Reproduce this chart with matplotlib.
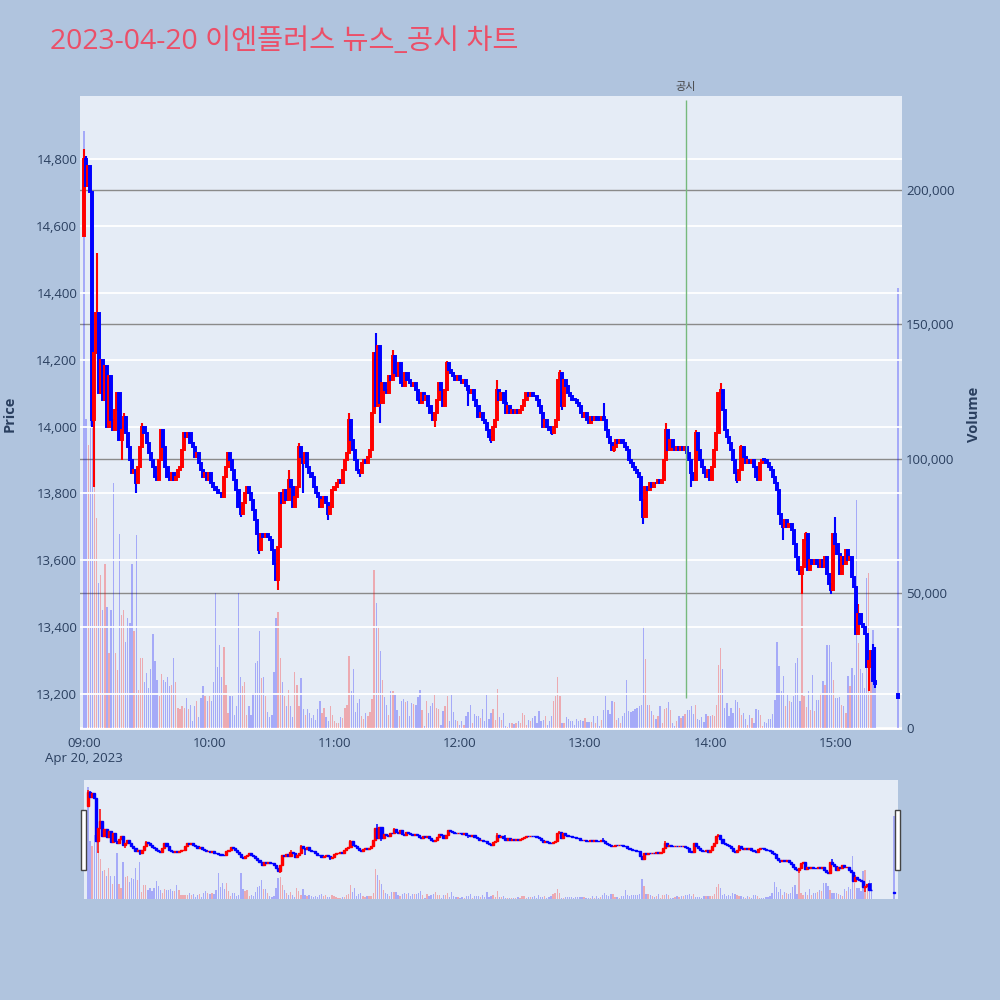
import numpy as np
import pandas as pd
import matplotlib
matplotlib.use("Agg")
import matplotlib.pyplot as plt
import matplotlib.transforms as mtransforms
from matplotlib.patches import Rectangle

plt.rcParams['font.family'] = ['Open Sans', 'Noto Sans CJK KR', 'DejaVu Sans']

# ---------------- data ----------------
title_text = "2023-04-20 이엔플러스 뉴스_공시 차트"
session_start = "2023-04-20 09:00"
first_open = 14570

closes = [
    14800, 14720, 14780, 14700, 14020, 14220, 14340, 14100, 14200, 14080,
    14180, 14000, 14150, 14020, 13990, 14050, 14100, 13960, 13990, 14030,
    13980, 13940, 13900, 13860, 13870, 13830, 13880, 13940, 14000, 13980,
    13950, 13920, 13900, 13880, 13850, 13840, 13900, 13990, 13940, 13880,
    13850, 13840, 13860, 13840, 13850, 13870, 13880, 13930, 13980, 13970,
    13980, 13950, 13940, 13910, 13920, 13890, 13870, 13850, 13860, 13840,
    13860, 13830, 13820, 13810, 13800, 13800, 13790, 13850, 13880, 13920,
    13900, 13870, 13840, 13810, 13760, 13740, 13770, 13800, 13820, 13800,
    13780, 13750, 13720, 13680, 13630, 13680, 13670, 13680, 13670, 13660,
    13630, 13590, 13540, 13640, 13800, 13770, 13810, 13780, 13840, 13820,
    13760, 13790, 13820, 13940, 13910, 13890, 13920, 13880, 13860, 13850,
    13820, 13800, 13790, 13760, 13780, 13790, 13770, 13740, 13760, 13810,
    13820, 13830, 13840, 13830, 13870, 13900, 13920, 14020, 13960, 13930,
    13900, 13870, 13860, 13890, 13900, 13890, 13910, 13930, 14040, 14220,
    14060, 14240, 14070, 14130, 14110, 14100, 14150, 14140, 14210, 14160,
    14150, 14190, 14130, 14120, 14160, 14140, 14130, 14120, 14130, 14110,
    14080, 14070, 14100, 14080, 14090, 14060, 14040, 14020, 14040, 14080,
    14130, 14110, 14060, 14110, 14190, 14170, 14160, 14150, 14140, 14150,
    14140, 14130, 14140, 14120, 14110, 14100, 14110, 14080, 14060, 14030,
    14040, 14020, 14010, 13990, 13970, 13960, 14000, 14020, 14110, 14080,
    14100, 14070, 14040, 14060, 14040, 14050, 14040, 14050, 14040, 14050,
    14060, 14080, 14100, 14090, 14100, 14090, 14090, 14080, 14060, 14040,
    14000, 14020, 14000, 13990, 13980, 14000, 14020, 14140, 14160, 14060,
    14140, 14120, 14100, 14090, 14080, 14080, 14070, 14060, 14040, 14030,
    14040, 14020, 14010, 14030, 14020, 14030, 14020, 14020, 14030, 14020,
    13990, 13970, 13950, 13930, 13940, 13960, 13950, 13960, 13950, 13940,
    13930, 13900, 13890, 13880, 13870, 13860, 13850, 13780, 13730, 13820,
    13810, 13830, 13820, 13830, 13830, 13840, 13830, 13840, 13900, 13990,
    13930, 13960, 13940, 13930, 13940, 13930, 13940, 13930, 13940, 13920,
    13900, 13860, 13840, 13980, 13930, 13900, 13880, 13860, 13850, 13870,
    13840, 13880, 13930, 13980, 14100, 14110, 14050, 13990, 13970, 13950,
    13930, 13900, 13860, 13840, 13870, 13940, 13910, 13890, 13900, 13890,
    13900, 13880, 13850, 13840, 13890, 13900, 13900, 13890, 13880, 13870,
    13850, 13830, 13810, 13740, 13710, 13700, 13720, 13700, 13710, 13690,
    13650, 13610, 13570, 13560, 13580, 13660, 13680, 13570, 13600, 13590,
    13600, 13590, 13580, 13600, 13580, 13610, 13560, 13530, 13510, 13680,
    13650, 13620, 13560, 13610, 13590, 13630, 13600, 13610, 13550, 13520,
    13380, 13440, 13410, 13400, 13380, 13280, 13300, 13330, 13240, 13230,
]

high_wicks = {0: 14830, 1: 14810, 6: 14520, 19: 14040, 28: 14010, 48: 13985,
              69: 13925, 98: 13870, 103: 13950, 127: 14040, 140: 14280,
              148: 14230, 174: 14195, 198: 14140, 202: 14110, 228: 14170,
              249: 14070, 279: 14010, 293: 13990, 305: 14130, 315: 13945,
              346: 13685, 360: 13730, 371: 13470, 378: 13350, 379: 13340}
low_wicks = {4: 14000, 5: 13820, 18: 13900, 25: 13800, 75: 13730, 84: 13620,
             93: 13510, 105: 13800, 117: 13720, 132: 13850, 142: 14010,
             168: 14000, 184: 14060, 195: 13950, 224: 13975, 229: 14050,
             254: 13925, 268: 13710, 291: 13820, 313: 13830, 335: 13660,
             344: 13500, 358: 13500, 376: 13210, 379: 13220}

volumes = [
    222000, 115000, 105000, 125000, 166000, 95000, 78000, 54000, 57000, 44000,
    61000, 45000, 28000, 44000, 91000, 28000, 21600, 72000, 42000, 44000,
    32000, 41000, 39000, 61000, 36000, 71600, 14000, 26000, 26000, 17000,
    20500, 15000, 22000, 35000, 25000, 18000, 12000, 20000, 18000, 17000,
    19000, 15500, 16000, 26000, 17000, 7400, 7000, 8000, 7400, 11000,
    7000, 8500, 2500, 8000, 10000, 4000, 11000, 15500, 12000, 10000,
    12000, 10000, 17000, 50000, 22700, 31000, 19000, 30000, 16000, 5600,
    12000, 12000, 5000, 8000, 50000, 19000, 15500, 17000, 5000, 8000,
    5000, 13000, 24000, 25000, 36000, 18500, 19000, 12000, 6000, 4000,
    5000, 21000, 41000, 43000, 26000, 17000, 12000, 8000, 14000, 8000,
    4000, 21000, 16000, 8000, 18500, 7000, 5000, 7000, 5600, 3600,
    5000, 3000, 7000, 10000, 5600, 7400, 4000, 2500, 8000, 5000,
    2500, 1800, 1800, 4000, 3600, 7400, 8500, 26600, 13600, 22000,
    5800, 9300, 10800, 4600, 3500, 5600, 4300, 5800, 10800, 58900,
    46500, 37800, 28500, 18000, 11400, 8700, 5000, 13600, 13600, 12400,
    6800, 4300, 10000, 10800, 9500, 10200, 4300, 9300, 9000, 8700,
    11400, 14200, 6800, 600, 10000, 5600, 8000, 9300, 12400, 7400,
    7000, 1200, 6200, 8000, 12000, 2700, 12400, 6000, 3100, 2500,
    1200, 2500, 1200, 4300, 5800, 8700, 1800, 5300, 4600, 4300,
    3700, 7000, 2500, 12400, 3400, 5600, 7000, 3100, 14500, 4000,
    3000, 5600, 600, 300, 1800, 2000, 1500, 1800, 2500, 1800,
    5600, 5000, 1200, 3100, 2500, 3700, 4300, 1800, 6200, 2500,
    3100, 4300, 1200, 2500, 4300, 10000, 12000, 19000, 12000, 2000,
    2000, 4100, 3400, 2700, 2500, 1200, 3400, 2500, 2800, 2500,
    3700, 2100, 2100, 2100, 4600, 1800, 4300, 600, 3100, 6800,
    12000, 6800, 5300, 10000, 9600, 3000, 3700, 1800, 4600, 5600,
    18000, 6200, 5800, 6200, 7000, 7400, 8000, 8700, 38000, 25800,
    8700, 8700, 6200, 5000, 3400, 4600, 8300, 1800, 7200, 7400,
    9500, 6800, 1800, 600, 2500, 4300, 3700, 4300, 5300, 6800,
    6800, 8300, 5200, 8600, 3400, 3100, 4100, 2100, 5200, 4300,
    4300, 5000, 4300, 8700, 23500, 29700, 22000, 7400, 9300, 4300,
    7400, 5600, 10500, 9500, 7400, 5000, 5600, 3400, 1200, 5000,
    3700, 1800, 7000, 6800, 5000, 600, 2100, 1800, 3400, 3400,
    5300, 10300, 32000, 23000, 13600, 19200, 8000, 12400, 10200, 9500,
    11800, 24000, 26000, 10000, 50000, 11800, 7700, 13600, 6800, 19800,
    6200, 10500, 10500, 13000, 17300, 16000, 31000, 31000, 24700, 18000,
    11000, 11000, 11500, 8700, 8000, 5600, 19200, 15500, 22300, 19800,
    84700, 31500, 22000, 20400, 15000, 55600, 57500, 26500, 36400, 20000,
]

auction_time = "2023-04-20 15:30"
auction_open = 13200
auction_close = 13190
auction_volume = 163500

disclosure_time = "2023-04-20 13:48:30"
disclosure_label = "공시"
disclosure_low, disclosure_high = 13190, 14975

price_ticks = [13200, 13400, 13600, 13800, 14000, 14200, 14400, 14600, 14800]
volume_ticks = [0, 50000, 100000, 150000, 200000]
time_tick_labels = ["09:00", "10:00", "11:00", "12:00", "13:00", "14:00", "15:00"]
date_label = "Apr 20, 2023"

# ---------------- build OHLC ----------------
t0 = pd.Timestamp(session_start)
times = pd.date_range(session_start, periods=len(closes), freq="min")
times = times.append(pd.DatetimeIndex([pd.Timestamp(auction_time)]))
x = np.asarray((times - t0) / pd.Timedelta(minutes=1), dtype=float)

c = np.array(closes + [auction_close], dtype=float)
o = np.array([first_open] + closes[:-1] + [auction_open], dtype=float)
h = np.maximum(o, c)
l = np.minimum(o, c)
for k, v in high_wicks.items():
    h[k] = max(h[k], v)
for k, v in low_wicks.items():
    l[k] = min(l[k], v)
vol = np.array(volumes + [auction_volume], dtype=float)

tick_minutes = [(pd.Timestamp("2023-04-20 " + s) - t0) / pd.Timedelta(minutes=1)
                for s in time_tick_labels]
x_disc = (pd.Timestamp(disclosure_time) - t0) / pd.Timedelta(minutes=1)

RED = "#FF0000"
BLUE = "#0000FF"
BG = "#B0C4DE"
PLOT_BG = "#E5ECF6"
TXT = "#2a3f5f"

up = c > o
col = np.where(up, RED, BLUE)
# volume colour: compared with the previous bar's close (first bar has none)
vol_up = np.concatenate([[False], c[1:] > c[:-1]])
vcol = np.where(vol_up, RED, BLUE)

XLIM = (-1.92, 391.9)
PLIM = (13093, 14988)
VLIM = (-743, 234900)


def draw_candles(ax, body_w, body_lw, wick_lw):
    ax.vlines(x, l, h, colors=col, linewidth=wick_lw, zorder=3)
    bottoms = np.minimum(o, c)
    heights = np.maximum(np.abs(c - o), 2.0)
    ax.bar(x, heights, body_w, bottom=bottoms, color=col, edgecolor=col,
           linewidth=body_lw, zorder=4)


def draw_volume(ax, w, alpha):
    ax.bar(x, vol, w, color=vcol, alpha=alpha, linewidth=0, zorder=2)


fig = plt.figure(figsize=(10, 10), dpi=100)
fig.patch.set_facecolor(BG)

# ---------------- main panel ----------------
ax_vol = fig.add_axes([0.080, 0.270, 0.822, 0.634])
ax_vol.set_facecolor(PLOT_BG)
ax_price = ax_vol.twinx()
ax_vol.yaxis.tick_right()
ax_vol.yaxis.set_label_position("right")
ax_price.yaxis.tick_left()
ax_price.yaxis.set_label_position("left")

draw_volume(ax_vol, 0.62, 0.28)
ax_vol.set_ylim(*VLIM)
ax_vol.set_xlim(*XLIM)
ax_vol.set_yticks(volume_ticks)
ax_vol.set_yticklabels([f"{v:,}" for v in volume_ticks])
ax_vol.grid(axis="y", color="#8a8a8a", linewidth=1.0, zorder=1)
ax_vol.set_axisbelow(True)
ax_vol.axhline(0, color="white", linewidth=2, zorder=1.5)
ax_vol.set_xticks(tick_minutes)
ax_vol.set_xticklabels([time_tick_labels[0] + "\n" + date_label] + time_tick_labels[1:],
                       linespacing=1.25)
ax_vol.tick_params(axis="x", length=0, pad=5, labelsize=9.5, labelcolor=TXT)
ax_vol.tick_params(axis="y", length=0, pad=3, labelsize=9.5, labelcolor=TXT)

ax_price.set_ylim(*PLIM)
ax_price.set_xlim(*XLIM)
ax_price.set_yticks(price_ticks)
ax_price.set_yticklabels([f"{p:,}" for p in price_ticks])
ax_price.tick_params(axis="y", length=0, pad=2, labelsize=9.5, labelcolor=TXT)
ax_price.grid(axis="y", color="white", linewidth=1.3, zorder=0.5)
ax_price.set_axisbelow(True)
draw_candles(ax_price, 1.0, 1.4, 1.5)

ax_price.vlines(x_disc, disclosure_low, disclosure_high, color="#76B97C",
                linewidth=1.0, zorder=6)
trans = mtransforms.blended_transform_factory(ax_price.transData, ax_price.transAxes)
ax_price.text(x_disc, 1.004, disclosure_label, transform=trans, ha="center",
              va="bottom", fontsize=8, color="#444444", clip_on=False)

for a in (ax_vol, ax_price):
    for s in a.spines.values():
        s.set_visible(False)

fig.text(0.010, 0.586, "Price", rotation=90, ha="center", va="center",
         fontsize=10.5, fontweight="bold", color=TXT)
fig.text(0.974, 0.586, "Volume", rotation=90, ha="center", va="center",
         fontsize=10.5, fontweight="bold", color=TXT)
fig.text(0.050, 0.958, title_text, ha="left", va="center", fontsize=20.4,
         color="#EB4F68")

# ---------------- range slider ----------------
ax_sv = fig.add_axes([0.084, 0.101, 0.814, 0.119])
ax_sv.set_facecolor(PLOT_BG)
ax_sp = ax_sv.twinx()
draw_volume(ax_sv, 0.62, 0.28)
ax_sv.set_ylim(*VLIM)
ax_sv.set_xlim(*XLIM)
ax_sp.set_ylim(*PLIM)
ax_sp.set_xlim(*XLIM)
draw_candles(ax_sp, 1.0, 1.0, 1.1)
for a in (ax_sv, ax_sp):
    a.set_xticks([])
    a.set_yticks([])
    for s in a.spines.values():
        s.set_visible(False)

for hx in (0.081, 0.895):
    fig.patches.append(Rectangle((hx, 0.130), 0.005, 0.060, transform=fig.transFigure,
                                 facecolor="white", edgecolor="#444444",
                                 linewidth=1.0, zorder=10))

fig.savefig("out.png", dpi=100, facecolor=BG)
